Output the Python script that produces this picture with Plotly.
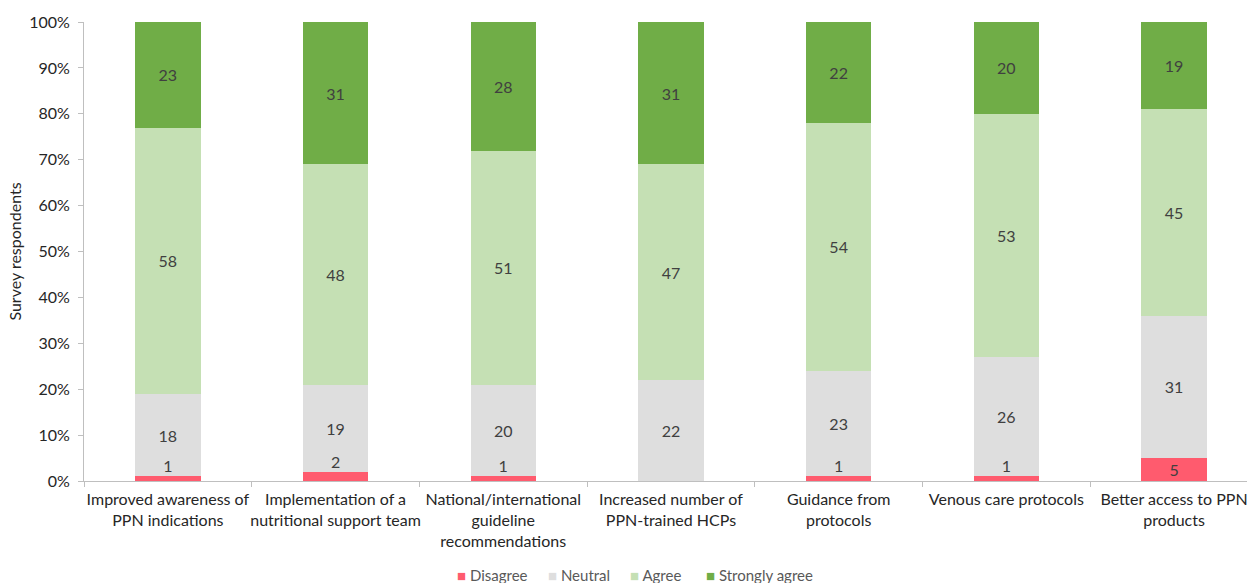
import plotly.graph_objects as go

categories = [
    "Improved awareness of<br>PPN indications",
    "Implementation of a<br>nutritional support team",
    "National/international<br>guideline<br>recommendations",
    "Increased number of<br>PPN-trained HCPs",
    "Guidance from<br>protocols",
    "Venous care protocols",
    "Better access to PPN<br>products",
]
disagree = [1, 2, 1, 0, 1, 1, 5]
neutral = [18, 19, 20, 22, 23, 26, 31]
agree = [58, 48, 51, 47, 54, 53, 45]
strongly_agree = [23, 31, 28, 31, 22, 20, 19]

series_names = ["Disagree", "Neutral", "Agree", "Strongly agree"]
colors = ["#FF5B6E", "#DEDEDE", "#C5E0B4", "#70AD47"]

FONT = "Lato, 'Open Sans', sans-serif"
TEXT_COLOR = "#404040"
W, H = 1247, 583
ML, MR, MT, MB = 84, 0, 22, 102

fig = go.Figure()

# Disagree: values too thin to hold a label get one just above the segment
dis_text = [str(v) if v >= 3 else "" for v in disagree]
series = [disagree, neutral, agree, strongly_agree]
for name, vals, col in zip(series_names, series, colors):
    txt = dis_text if name == "Disagree" else [str(v) for v in vals]
    fig.add_trace(go.Bar(
        name=name, x=categories, y=vals, marker=dict(color=col, line=dict(width=0)),
        text=txt, textposition="inside", insidetextanchor="middle", textangle=0,
        constraintext="none",
        textfont=dict(family=FONT, size=16, color=TEXT_COLOR),
        width=0.39, hoverinfo="name+y", showlegend=False,
    ))

small_idx = [i for i, v in enumerate(disagree) if 0 < v < 3]
fig.add_trace(go.Scatter(
    x=[categories[i] for i in small_idx],
    y=[disagree[i] for i in small_idx],
    text=[str(disagree[i]) for i in small_idx],
    mode="text", textposition="top center",
    textfont=dict(family=FONT, size=16, color=TEXT_COLOR),
    showlegend=False, hoverinfo="skip",
))

# Compact legend row under the chart: colored square + series name
legend_px = [455, 546, 628, 704]
plot_w = W - ML - MR
for name, col, px in zip(series_names, colors, legend_px):
    fig.add_annotation(
        xref="paper", yref="paper", x=(px - ML) / plot_w, y=-(575 - (H - MB)) / (H - MT - MB),
        xanchor="left", yanchor="middle", showarrow=False,
        text=f"<span style='color:{col}'>■</span> {name}",
        font=dict(family=FONT, size=15, color="#595959"),
    )

fig.update_layout(
    width=W, height=H,
    barmode="stack",
    plot_bgcolor="white", paper_bgcolor="white",
    margin=dict(l=ML, r=MR, t=MT, b=MB),
    font=dict(family=FONT, size=16, color="#262626"),
    showlegend=False,
)
fig.update_xaxes(
    range=[-0.5, 6.435], showgrid=False, showline=True, linecolor="#BFBFBF", linewidth=1,
    ticks="outside", tickson="boundaries", ticklen=5, tickcolor="#BFBFBF",
    tickfont=dict(family=FONT, size=16, color="#262626"), tickangle=0, automargin=False,
    ticklabelstandoff=4,
)
fig.update_yaxes(
    range=[0, 100], dtick=10, ticksuffix="%", showgrid=False, zeroline=False,
    showline=True, linecolor="#BFBFBF", linewidth=1,
    ticks="outside", ticklen=5, tickcolor="#BFBFBF",
    tickfont=dict(family=FONT, size=16, color="#262626"), automargin=False,
    ticklabelstandoff=5,
    title=dict(text="Survey respondents", font=dict(family=FONT, size=16, color="#262626"), standoff=3),
)

fig.write_html("out.html")
